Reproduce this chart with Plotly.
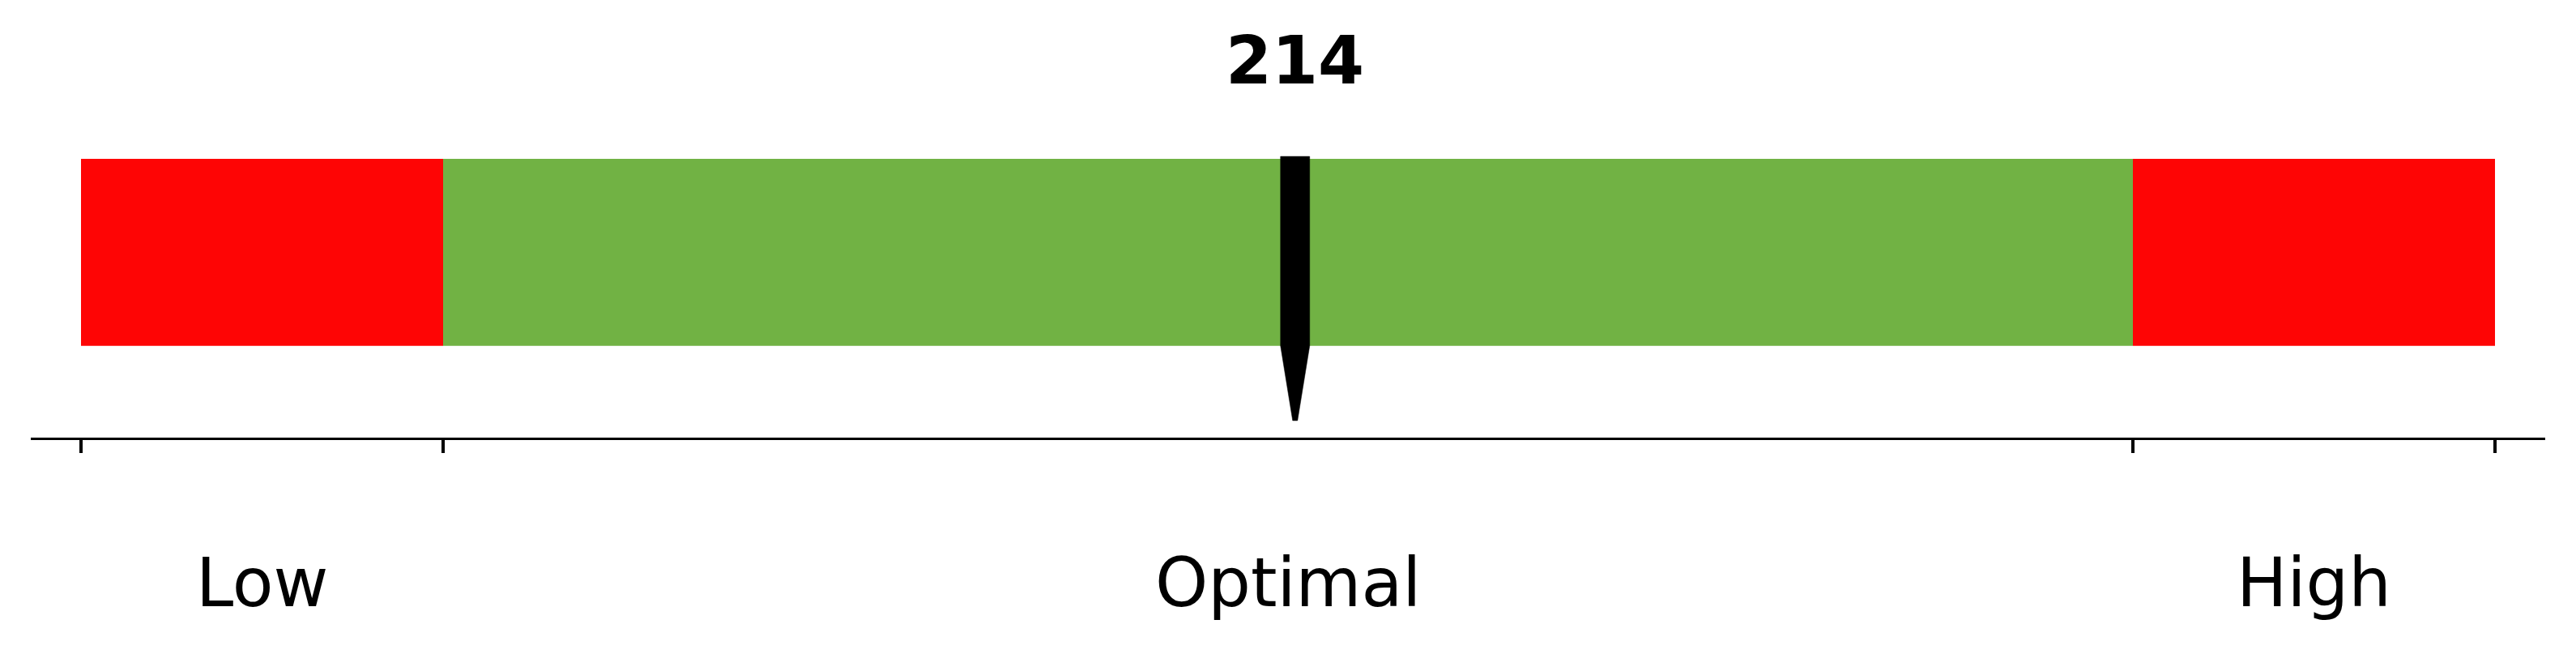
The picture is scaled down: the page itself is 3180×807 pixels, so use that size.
import plotly.graph_objects as go

# ---- data ----
segment_labels = ["Low", "Optimal", "High"]
segment_edges = [94.3, 130, 296.6, 332.3]
segment_colors = ["#fe0505", "#71b244", "#fe0505"]
value = 214

# ---- layout constants ----
W, H = 3180, 807
plot_left, plot_right = 38, 3142          # axis line extent (px)
plot_bottom = 540                         # plot-area bottom (px)
units_per_px = (segment_edges[-1] - segment_edges[0]) / 2980.0
x_min = segment_edges[0] - (100 - plot_left) * units_per_px
x_max = segment_edges[-1] + (plot_right - 3080) * units_per_px


def to_y(px):
    return plot_bottom - px


bar_top, bar_bot = to_y(196), to_y(426.7)
ptr_top, ptr_tip = to_y(193), to_y(519)
half_w = 18.0 * units_per_px
tip_half = 3.0 * units_per_px

fig = go.Figure()

for i, lab in enumerate(segment_labels):
    fig.add_trace(go.Bar(
        y=[(bar_top + bar_bot) / 2],
        x=[segment_edges[i + 1] - segment_edges[i]],
        base=[segment_edges[i]],
        width=[bar_top - bar_bot],
        orientation="h",
        marker=dict(color=segment_colors[i], line=dict(width=0)),
        showlegend=False,
        hoverinfo="skip",
    ))

# pointer
px = [value - half_w, value + half_w, value + half_w, value + tip_half,
      value - tip_half, value - half_w, value - half_w]
py = [ptr_top, ptr_top, bar_bot, ptr_tip, ptr_tip, bar_bot, ptr_top]
fig.add_trace(go.Scatter(x=px, y=py, mode="lines", fill="toself",
                         fillcolor="black", line=dict(color="black", width=0.5),
                         showlegend=False, hoverinfo="skip"))

annotations = []
for i, lab in enumerate(segment_labels):
    annotations.append(dict(
        x=(segment_edges[i] + segment_edges[i + 1]) / 2,
        y=to_y(719) / plot_bottom, xref="x", yref="paper",
        text=lab, showarrow=False,
        font=dict(family="DejaVu Sans", size=83, color="black"),
        xanchor="center", yanchor="middle"))
annotations.append(dict(
    x=value, y=to_y(74) / plot_bottom, xref="x", yref="paper",
    text=f"<b>{value}</b>", showarrow=False,
    font=dict(family="DejaVu Sans", size=82, color="black"),
    xanchor="center", yanchor="middle"))

fig.update_layout(
    width=W, height=H,
    margin=dict(l=plot_left, r=W - plot_right, t=0, b=H - plot_bottom, pad=0),
    paper_bgcolor="white", plot_bgcolor="white",
    barmode="overlay",
    annotations=annotations,
    xaxis=dict(range=[x_min, x_max], showgrid=False, zeroline=False,
               showline=True, linecolor="black", linewidth=3.3,
               ticks="outside", ticklen=16, tickwidth=3.3, tickcolor="black",
               tickvals=segment_edges, ticktext=["" for _ in segment_edges],
               fixedrange=True),
    yaxis=dict(range=[0, plot_bottom], visible=False, showgrid=False,
               zeroline=False, fixedrange=True),
)

fig.write_html(
    "out.html",
    config={"displayModeBar": False, "staticPlot": True},
    post_script="document.body.style.margin='0';document.body.style.overflow='hidden';",
)
